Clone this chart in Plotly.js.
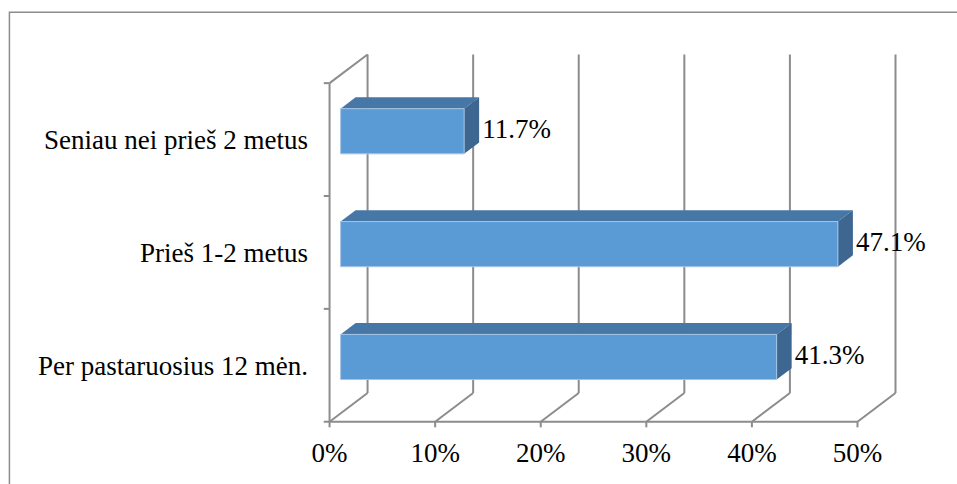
<!DOCTYPE html>
<html>
<head>
<meta charset="utf-8">
<script src="https://cdn.plot.ly/plotly-3.0.1.min.js"></script>
<style>html,body{margin:0;padding:0;background:#fff;}#chart{width:957px;height:484px;}</style>
</head>
<body>
<div id="chart"></div>
<script>
// ---- data ----
var categories = ["Per pastaruosius 12 mėn.", "Prieš 1-2 metus", "Seniau nei prieš 2 metus"];
var values = [41.3, 47.1, 11.7];
var xTickValues = [0, 10, 20, 30, 40, 50];
var xTickLabels = ["0%", "10%", "20%", "30%", "40%", "50%"];

// ---- 3D projection helpers (depth offset in axis units) ----
var DX = 3.6, DY = 0.254;     // full depth of floor / walls
var Z0 = 0.29, Z1 = 0.685;    // bar front / back depth
var H = 0.2;                  // half bar thickness
var gridColor = "#8c8c8c";
var font = "Liberation Serif";
var fs = 27;

var traces = [];
function line(xs, ys) {
  traces.push({x: xs, y: ys, mode: "lines", type: "scatter", hoverinfo: "skip",
    line: {color: gridColor, width: 2}, showlegend: false});
}
var nCat = categories.length;
var xMax = xTickValues[xTickValues.length - 1];
xTickValues.forEach(function (v) {
  line([v + DX, v + DX], [DY, nCat + DY]);
  line([v, v + DX], [0, DY]);
});
line([0, xMax], [0, 0]);
line([0, 0], [0, nCat]);
line([0, DX], [nCat, nCat + DY]);
for (var k = 0; k <= nCat; k++) line([-0.55, 0], [k, k]);
xTickValues.forEach(function (v) { line([v, v], [0, -0.05]); });

var labX = [], labY = [], labT = [];
values.forEach(function (v, i) {
  var c = i + 0.5;
  var xf0 = Z0 * DX, xf1 = v + Z0 * DX, xb0 = Z1 * DX, xb1 = v + Z1 * DX;
  var yf0 = c - H + Z0 * DY, yf1 = c + H + Z0 * DY, yb0 = c - H + Z1 * DY, yb1 = c + H + Z1 * DY;
  traces.push({type: "scatter", mode: "lines", fill: "toself", hoverinfo: "skip", showlegend: false,
    x: [xf0, xf1, xb1, xb0, xf0], y: [yf1, yf1, yb1, yb1, yf1],
    fillcolor: "#4677a6", line: {width: 0, color: "#4677a6"}});
  traces.push({type: "scatter", mode: "lines", fill: "toself", hoverinfo: "skip", showlegend: false,
    x: [xf1, xb1, xb1, xf1, xf1], y: [yf0, yb0, yb1, yf1, yf0],
    fillcolor: "#3d6690", line: {width: 0, color: "#3d6690"}});
  traces.push({type: "scatter", mode: "lines", fill: "toself", hoverinfo: "skip", showlegend: false,
    x: [xf0, xf1, xf1, xf0, xf0], y: [yf0, yf0, yf1, yf1, yf0],
    fillcolor: "#5b9bd5", line: {width: 1, color: "#a6c4e4"}});
  labX.push(xb1 + 0.3); labY.push(c + Z0 * DY); labT.push(v.toFixed(1) + "%");
});
traces.push({type: "scatter", mode: "text", x: labX, y: labY, text: labT, textposition: "middle right",
  cliponaxis: false, hoverinfo: "skip", showlegend: false,
  textfont: {family: font, size: fs, color: "#000"}});

var kx = 10.554, ky = 113;
var xr = [-1, 54.5], yr = [-0.1, 3.4];
var ml = 330 + xr[0] * kx, pw = (xr[1] - xr[0]) * kx;
var mt = 422 - yr[1] * ky, ph = (yr[1] - yr[0]) * ky;
var layout = {
  width: 957, height: 484,
  margin: {l: ml, r: 957 - ml - pw, t: mt, b: 484 - mt - ph, pad: 0},
  paper_bgcolor: "#fff", plot_bgcolor: "rgba(0,0,0,0)",
  showlegend: false,
  font: {family: font, size: fs, color: "#000"},
  xaxis: {range: xr, showgrid: false, zeroline: false, showline: false, ticks: "",
    tickmode: "array", tickvals: xTickValues, ticktext: xTickLabels,
    ticklabelstandoff: 1, tickfont: {family: font, size: fs, color: "#000"}, fixedrange: true},
  yaxis: {range: yr, showgrid: false, zeroline: false, showline: false, ticks: "",
    tickmode: "array", tickvals: categories.map(function (_, i) { return i + 0.5; }), ticktext: categories,
    ticklabelstandoff: 10, tickfont: {family: font, size: fs, color: "#000"}, fixedrange: true},
  shapes: [{type: "rect", xref: "paper", yref: "paper",
    x0: (10 - ml) / pw, x1: (965 - ml) / pw, y0: -(495 - (mt + ph)) / ph, y1: ((mt + ph) - 12) / ph,
    line: {color: "#8c8c8c", width: 1.5}, fillcolor: "rgba(0,0,0,0)", layer: "below"}]
};
Plotly.newPlot("chart", traces, layout, {staticPlot: true, displayModeBar: false});
</script>
</body>
</html>
